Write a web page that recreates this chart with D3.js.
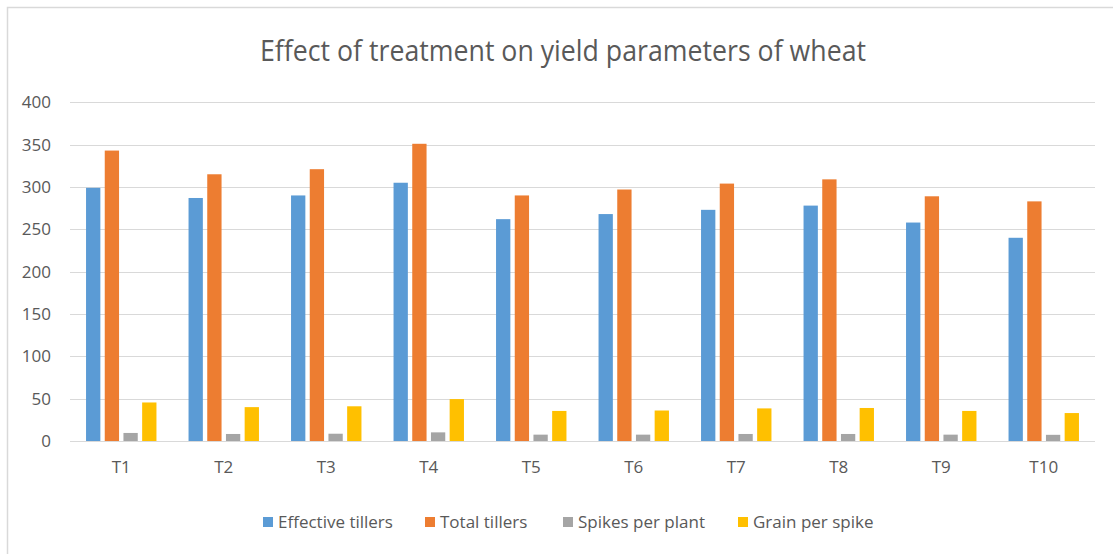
<!DOCTYPE html>
<meta charset="utf-8">
<style>

body {
  margin: 0;
  background: #fff;
}

.grid line {
  stroke: #d9d9d9;
  stroke-width: 1px;
}

.axis text {
  fill: #595959;
  font-family: "Liberation Sans Narrow", "Open Sans", sans-serif;
  font-size: 17px;
}

.title {
  fill: #595959;
  font-family: "Liberation Sans Narrow", "Open Sans", sans-serif;
  font-size: 30px;
}

.legend text {
  fill: #595959;
  font-family: "Liberation Sans Narrow", "Open Sans", sans-serif;
  font-size: 17px;
}

</style>
<body>
<script src="https://cdn.jsdelivr.net/npm/d3@7"></script>
<script>

var categories = ["T1", "T2", "T3", "T4", "T5", "T6", "T7", "T8", "T9", "T10"];
var effectiveTillers = [299, 287, 290, 305, 262, 268, 273, 278, 258, 240];
var totalTillers = [343, 315, 321, 351, 290, 297, 304, 309, 289, 283];
var spikesPerPlant = [9.5, 8.3, 8.6, 10.2, 7.5, 7.5, 8.3, 8.3, 7.5, 7.3];
var grainPerSpike = [45.5, 40, 41, 49.5, 35.5, 36, 38.5, 39, 35.5, 33];
var seriesNames = ["Effective tillers", "Total tillers", "Spikes per plant", "Grain per spike"];
var yTicks = [0, 50, 100, 150, 200, 250, 300, 350, 400];

var colors = ["#5b9bd5", "#ed7d31", "#a5a5a5", "#ffc000"];
var seriesValues = [effectiveTillers, totalTillers, spikesPerPlant, grainPerSpike];

var width = 1113,
    height = 554;

var svg = d3.select("body").append("svg")
    .attr("width", width)
    .attr("height", height);

// chart border
svg.append("rect")
    .attr("x", 7.5)
    .attr("y", 7.5)
    .attr("width", width)
    .attr("height", height)
    .attr("fill", "none")
    .attr("stroke", "#d9d9d9")
    .attr("stroke-width", 1.5);

var x0 = d3.scaleBand()
    .domain(categories)
    .range([70, 1095])
    .paddingInner(0.313)
    .paddingOuter(0.1565);

var x1 = d3.scaleBand()
    .domain(d3.range(seriesNames.length))
    .range([0, x0.bandwidth()])
    .paddingInner(0.235);

var y = d3.scaleLinear()
    .domain([0, 400])
    .range([441, 102.3]);

svg.append("text")
    .attr("class", "title")
    .attr("x", 563)
    .attr("y", 61)
    .attr("text-anchor", "middle")
    .attr("textLength", 606)
    .attr("lengthAdjust", "spacingAndGlyphs")
    .text("Effect of treatment on yield parameters of wheat");

// gridlines
svg.append("g")
    .attr("class", "grid")
    .selectAll("line")
    .data(yTicks)
    .enter().append("line")
    .attr("x1", 70)
    .attr("x2", 1095)
    .attr("y1", function(d) { return Math.round(y(d)) + 0.5; })
    .attr("y2", function(d) { return Math.round(y(d)) + 0.5; });

var yAxis = svg.append("g")
    .attr("class", "axis")
    .attr("transform", "translate(51,0)")
    .call(d3.axisLeft(y).tickValues(yTicks).tickSize(0).tickPadding(0));
yAxis.select(".domain").remove();

var xAxis = svg.append("g")
    .attr("class", "axis")
    .attr("transform", "translate(0,441)")
    .call(d3.axisBottom(x0).tickSize(0).tickPadding(20));
xAxis.select(".domain").remove();

// bars
var groups = svg.append("g")
    .selectAll("g")
    .data(categories)
    .enter().append("g")
    .attr("transform", function(d) { return "translate(" + x0(d) + ",0)"; });

groups.selectAll("rect")
    .data(function(d, i) {
      return seriesValues.map(function(vals, s) { return {s: s, v: vals[i]}; });
    })
    .enter().append("rect")
    .attr("x", function(d) { return x1(d.s); })
    .attr("width", x1.bandwidth())
    .attr("y", function(d) { return y(d.v); })
    .attr("height", function(d) { return y(0) - y(d.v); })
    .attr("fill", function(d) { return colors[d.s]; });

// legend
var legendX = [263, 425, 563, 738];
var legend = svg.append("g")
    .attr("class", "legend")
    .selectAll("g")
    .data(seriesNames)
    .enter().append("g")
    .attr("transform", function(d, i) { return "translate(" + legendX[i] + ",522)"; });

legend.append("rect")
    .attr("y", -5)
    .attr("width", 10)
    .attr("height", 10)
    .attr("fill", function(d, i) { return colors[i]; });

legend.append("text")
    .attr("x", 15)
    .attr("dy", "0.35em")
    .text(function(d) { return d; });

</script>
